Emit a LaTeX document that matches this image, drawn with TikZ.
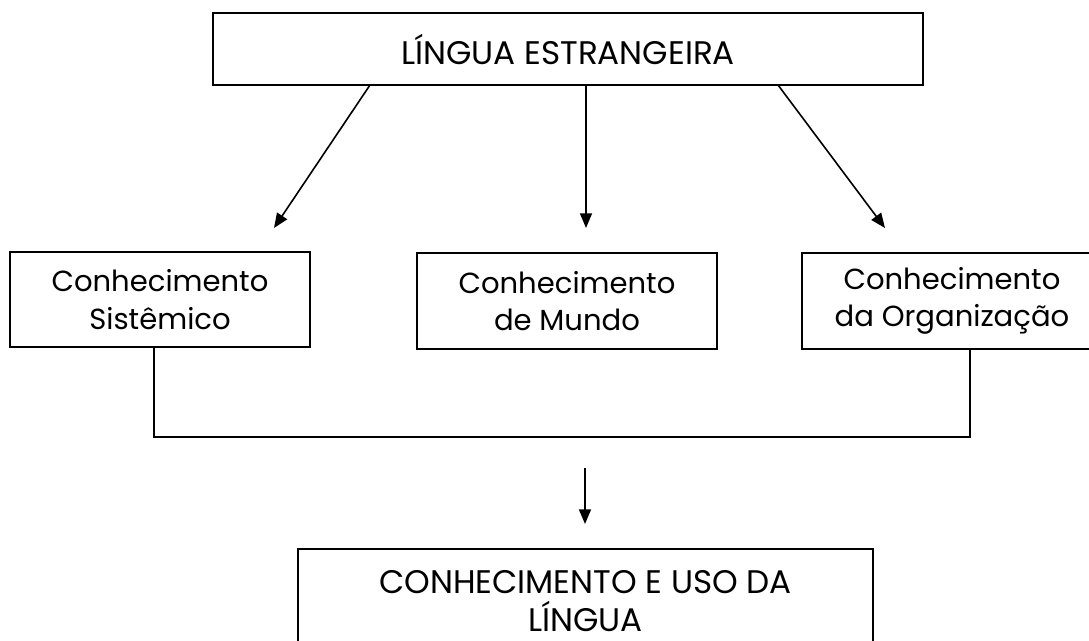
\documentclass[tikz,border=0pt]{standalone}
\usepackage{fontspec}
\setmainfont{Poppins}
\usetikzlibrary{arrows.meta}
\tikzset{
  boxstyle/.style={draw, line width=1.4pt, rectangle, inner sep=0pt, align=center,
    font=\fontsize{21.8}{28}\selectfont},
  capsbox/.style={boxstyle, font=\fontsize{24.5}{28.5}\selectfont},
  arrowline/.style={line width=1.2pt, -{Triangle[length=11pt,width=9pt]}},
  joinline/.style={line width=1.2pt},
}
\begin{document}
\begin{tikzpicture}[x=0.75pt,y=-0.75pt]
\useasboundingbox (0,0) rectangle (1089,641);
\clip (0,0) rectangle (1089,641);
\fill[white] (0,0) rectangle (1089,641);
% boxes
\node[capsbox, minimum width=532.5pt, minimum height=54pt] (top) at (568,49) {LÍNGUA ESTRANGEIRA};
\node[boxstyle, minimum width=225pt, minimum height=71.25pt] (sis) at (160,299.5) {Conhecimento\\Sistêmico};
\node[boxstyle, minimum width=225pt, minimum height=72pt] (mun) at (567,301) {Conhecimento\\de Mundo};
\node[boxstyle, minimum width=225pt, minimum height=72pt] (org) at (952,301) {Conhecimento\\da Organização};
\node[capsbox, minimum width=431.25pt, minimum height=78pt] (uso) at (585.5,601) {CONHECIMENTO E USO DA\\LÍNGUA};
% arrow end points
\coordinate (a1s) at (370,85);
\coordinate (a1e) at (274,228);
\coordinate (a2s) at (586,85);
\coordinate (a2e) at (586,228);
\coordinate (a3s) at (778,85);
\coordinate (a3e) at (885,228);
\coordinate (j1) at (154,437);
\coordinate (j2) at (970,437);
\coordinate (a4s) at (585,468);
\coordinate (a4e) at (585,524);
\draw[arrowline] (a1s) -- (a1e);
\draw[arrowline] (a2s) -- (a2e);
\draw[arrowline] (a3s) -- (a3e);
\draw[joinline] (sis.south -| j1) -- (j1) -- (j2) -- (org.south -| j2);
\draw[arrowline] (a4s) -- (a4e);
\end{tikzpicture}
\end{document}
